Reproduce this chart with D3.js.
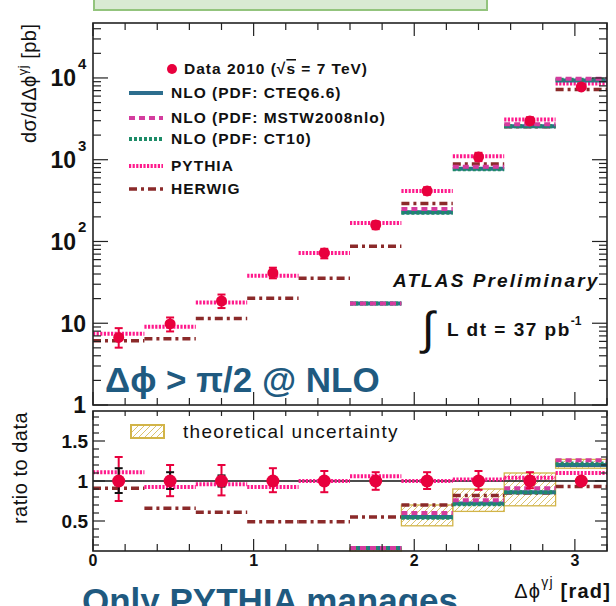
<!DOCTYPE html>
<html><head><meta charset="utf-8">
<script src="https://cdn.jsdelivr.net/npm/d3@7"></script>
<style>body{margin:0;background:#fff}svg{display:block}text{font-family:"Liberation Sans",Arial,sans-serif}</style>
</head><body><svg id="c" width="616" height="606"></svg>
<script>
// ---- data ----
const binEdges = [0,0.32,0.64,0.96,1.28,1.60,1.92,2.24,2.56,2.88,3.20];
const dataVals = [6.7, 9.8, 18.7, 41.2, 72.3, 159, 415, 1080, 2980, 7770];
const errTotUp = [0.30,0.20,0.20,0.16,0.125,0.11,0.11,0.125,0.11,0.05];
const errTotDn = [0.25,0.19,0.18,0.14,0.14,0.11,0.10,0.11,0.09,0.05];
const errStatUp = [0.16,0.11,0.07,0.03,0.02,0.02,0.02,0.02,0.02,0.02];
const errStatDn = [0.15,0.10,0.07,0.03,0.02,0.02,0.02,0.02,0.02,0.02];
const pythiaRatio = [1.11,0.925,0.96,0.925,1.0,1.06,1.0,1.02,1.04,1.10];
const herwigRatio = [0.91,0.66,0.61,0.49,0.49,0.55,0.70,0.82,0.85,0.93];
const cteqRatio = [null,null,null,null,null,0.11,0.55,0.72,0.86,1.20];
const mstwRatio = [null,null,null,null,null,0.11,0.60,0.76,0.91,1.26];
const ct10Ratio = [null,null,null,null,null,0.11,0.54,0.71,0.86,1.22];
const uncLo = [null,null,null,null,null,0.0,0.44,0.62,0.69,1.16];
const uncHi = [null,null,null,null,null,0.16,0.70,0.90,1.10,1.27];
const topTickVals = [1,10,100,1000,10000];
const topTickBase = ["1","10","10","10","10"];
const topTickExp = [null,null,"2","3","4"];
const ratioTickVals = [0.5,1,1.5];
const ratioTickLabels = ["0.5","1","1.5"];
const xTickVals = [0,1,2,3];
const xTickLabels = ["0","1","2","3"];
const legendNames = ["NLO (PDF: CTEQ6.6)","NLO (PDF: MSTW2008nlo)","NLO (PDF: CT10)","PYTHIA","HERWIG"];

// ---- styles ----
const C = {data:"#e8003d", cteq:"#2d6e8e", mstw:"#d43c9e", ct10:"#1e8c68", pythia:"#ff1a8c", herwig:"#8b2a2a", gold:"#d2b448", blue:"#1f5a80"};
const models = [
  {key:"herwig", r:herwigRatio, color:C.herwig, dash:"8,4,3,4", w:3.5},
  {key:"pythia", r:pythiaRatio, color:C.pythia, dash:"2.2,1.4", w:4},
  {key:"cteq", r:cteqRatio, color:C.cteq, dash:null, w:4},
  {key:"ct10", r:ct10Ratio, color:C.ct10, dash:"3,2", w:4},
  {key:"mstw", r:mstwRatio, color:C.mstw, dash:"6,4", w:4}
];
const legendStyles = [models[2],models[4],models[3],models[1],models[0]];

const svg = d3.select("#c");
const x = d3.scaleLinear([0,3.2],[93,607]);
const yT = d3.scaleLog([1,4.7e4],[405,23]);
const yR = d3.scaleLinear([0.125,1.875],[551,411]).clamp(true);
const bins = dataVals.map((v,i)=>({i, lo:binEdges[i], hi:binEdges[i+1], c:(binEdges[i]+binEdges[i+1])/2, v}));

// green box at top
svg.append("rect").attr("x",94).attr("y",-5).attr("width",393).attr("height",15)
  .attr("fill","#d9ead3").attr("stroke","#93c47d").attr("stroke-width",2);

// hatch pattern
const defs = svg.append("defs");
const pat = defs.append("pattern").attr("id","hatch").attr("patternUnits","userSpaceOnUse").attr("width",6).attr("height",6);
pat.append("path").attr("d","M-1,1 L1,-1 M0,6 L6,0 M5,7 L7,5").attr("stroke",C.gold).attr("stroke-width",0.8);
defs.append("clipPath").attr("id","clipT").append("rect").attr("x",93).attr("y",23).attr("width",514).attr("height",382);
defs.append("clipPath").attr("id","clipR").append("rect").attr("x",93).attr("y",411).attr("width",514).attr("height",142);

// ---------- TOP PANEL ----------
const gT = svg.append("g").attr("clip-path","url(#clipT)");
models.forEach(m=>{
  gT.selectAll(null).data(bins.filter(b=>m.r[b.i]!=null)).join("line")
    .attr("x1",b=>x(b.lo)).attr("x2",b=>x(b.hi))
    .attr("y1",b=>yT(m.r[b.i]*b.v)).attr("y2",b=>yT(m.r[b.i]*b.v))
    .attr("stroke",m.color).attr("stroke-width",m.w).attr("stroke-dasharray",m.dash);
});
gT.selectAll(null).data(bins).join("line")
  .attr("x1",b=>x(b.c)).attr("x2",b=>x(b.c))
  .attr("y1",b=>yT(b.v*(1+errTotUp[b.i]))).attr("y2",b=>yT(b.v*(1-errTotDn[b.i])))
  .attr("stroke",C.data).attr("stroke-width",2);
[errTotUp,errTotDn].forEach((e,k)=>{
  gT.selectAll(null).data(bins).join("line")
    .attr("x1",b=>x(b.c)-4).attr("x2",b=>x(b.c)+4)
    .attr("y1",b=>yT(b.v*(k?1-e[b.i]:1+e[b.i]))).attr("y2",b=>yT(b.v*(k?1-e[b.i]:1+e[b.i])))
    .attr("stroke",C.data).attr("stroke-width",2);
});
gT.selectAll(null).data(bins).join("circle")
  .attr("cx",b=>x(b.c)).attr("cy",b=>yT(b.v)).attr("r",5.5).attr("fill",C.data);

function frame(y0,y1){
  svg.append("rect").attr("x",93).attr("y",y0).attr("width",514).attr("height",y1-y0)
    .attr("fill","none").attr("stroke","#222").attr("stroke-width",1.6);
}
frame(23,405);
const tk = svg.append("g").attr("stroke","#222").attr("stroke-width",1.2);
d3.range(0,3.2001,0.2).forEach(v=>{
  const maj = Math.abs(v-Math.round(v))<1e-6, L = maj?13:7;
  tk.append("line").attr("x1",x(v)).attr("x2",x(v)).attr("y1",23).attr("y2",23+L);
  tk.append("line").attr("x1",x(v)).attr("x2",x(v)).attr("y1",405).attr("y2",405-L);
  tk.append("line").attr("x1",x(v)).attr("x2",x(v)).attr("y1",411).attr("y2",411+(maj?9:5));
  tk.append("line").attr("x1",x(v)).attr("x2",x(v)).attr("y1",551).attr("y2",551-(maj?12:7));
});
for(let d=1; d<=10000; d*=10){
  for(let k=1;k<=9;k++){
    const v=d*k; if(v>4.7e4) break;
    const L = k===1?15:8;
    tk.append("line").attr("x1",93).attr("x2",93+L).attr("y1",yT(v)).attr("y2",yT(v));
    tk.append("line").attr("x1",607).attr("x2",607-L).attr("y1",yT(v)).attr("y2",yT(v));
  }
}
const tl = svg.append("g").attr("font-weight","bold").attr("fill","#111");
topTickVals.forEach((v,i)=>{
  tl.append("text").attr("x",topTickExp[i]?76:86).attr("y",yT(v)).attr("dy","0.36em")
    .attr("text-anchor","end").attr("font-size",23).text(topTickBase[i]);
  if(topTickExp[i]) tl.append("text").attr("x",78).attr("y",yT(v)-9).attr("font-size",15).text(topTickExp[i]);
});

const yt = svg.append("text").attr("transform","translate(36,143) rotate(-90)")
  .attr("font-size",20).attr("letter-spacing",0.5).attr("fill","#111");
yt.append("tspan").text("dσ/dΔϕ");
yt.append("tspan").attr("font-size",13).attr("dy",-9).text("γj");
yt.append("tspan").attr("dy",9).text(" [pb]");

// legend
svg.append("circle").attr("cx",172).attr("cy",69).attr("r",5).attr("fill",C.data);
const lg = svg.append("g").attr("font-weight","bold").attr("font-size",15.5).attr("letter-spacing",1).attr("fill","#111");
const dt = lg.append("text").attr("x",184).attr("y",74);
dt.append("tspan").text("Data 2010 (");
dt.append("tspan").text("√");
dt.append("tspan").attr("text-decoration","overline").text("s");
dt.append("tspan").text(" = 7 TeV)");
const legY = [93,118,139,166,189];
legendStyles.forEach((m,i)=>{
  svg.append("line").attr("x1",129).attr("x2",163).attr("y1",legY[i]).attr("y2",legY[i])
    .attr("stroke",m.color).attr("stroke-width",m.w).attr("stroke-dasharray",m.dash);
  lg.append("text").attr("x",171).attr("y",legY[i]+5).text(legendNames[i]);
});

// annotations
svg.append("text").attr("x",393).attr("y",287).attr("font-size",19).attr("font-weight","bold")
  .attr("font-style","italic").attr("letter-spacing",2.1).attr("fill","#111").text("ATLAS Preliminary");
svg.append("text").attr("x",422).attr("y",344).attr("font-size",46).attr("font-family","DejaVu Sans")
  .attr("fill","#111").text("∫");
const lum = svg.append("text").attr("x",447).attr("y",336).attr("font-size",19).attr("font-weight","bold")
  .attr("letter-spacing",1.5).attr("fill","#111");
lum.append("tspan").text("L dt = 37 pb");
lum.append("tspan").attr("font-size",12).attr("dy",-11).attr("letter-spacing",0).text("-1");
svg.append("text").attr("x",105).attr("y",392).attr("font-size",35).attr("font-weight","bold")
  .attr("fill",C.blue).text("Δϕ > π/2 @ NLO");

// ---------- RATIO PANEL ----------
const gR = svg.append("g").attr("clip-path","url(#clipR)");
const ub = bins.filter(b=>uncLo[b.i]!=null);
gR.selectAll(null).data(ub).join("rect")
  .attr("x",b=>x(b.lo)).attr("width",b=>x(b.hi)-x(b.lo))
  .attr("y",b=>yR(uncHi[b.i])).attr("height",b=>yR(uncLo[b.i])-yR(uncHi[b.i]))
  .attr("fill","url(#hatch)").attr("stroke",C.gold).attr("stroke-width",1.3);
gR.append("line").attr("x1",93).attr("x2",607).attr("y1",yR(1)).attr("y2",yR(1)).attr("stroke","#111").attr("stroke-width",1.5);
models.forEach(m=>{
  gR.selectAll(null).data(bins.filter(b=>m.r[b.i]!=null)).join("line")
    .attr("x1",b=>x(b.lo)).attr("x2",b=>x(b.hi))
    .attr("y1",b=>yR(m.r[b.i])-(m.r[b.i]<0.125?3:0)).attr("y2",b=>yR(m.r[b.i])-(m.r[b.i]<0.125?3:0))
    .attr("stroke",m.color).attr("stroke-width",m.w).attr("stroke-dasharray",m.dash);
});
function errBars(up,dn,color,w){
  gR.selectAll(null).data(bins).join("line")
    .attr("x1",b=>x(b.c)).attr("x2",b=>x(b.c))
    .attr("y1",b=>yR(1+up[b.i])).attr("y2",b=>yR(1-dn[b.i])).attr("stroke",color).attr("stroke-width",w);
  [up,dn].forEach((e,k)=>{
    gR.selectAll(null).data(bins).join("line")
      .attr("x1",b=>x(b.c)-4).attr("x2",b=>x(b.c)+4)
      .attr("y1",b=>yR(k?1-e[b.i]:1+e[b.i])).attr("y2",b=>yR(k?1-e[b.i]:1+e[b.i]))
      .attr("stroke",color).attr("stroke-width",w);
  });
}
errBars(errTotUp,errTotDn,C.data,2);
errBars(errStatUp,errStatDn,"#111",2);
gR.selectAll(null).data(bins).join("circle")
  .attr("cx",b=>x(b.c)).attr("cy",yR(1)).attr("r",6.5).attr("fill",C.data);

frame(411,551);
d3.range(0.2,1.8001,0.1).forEach(v=>{
  const maj = Math.abs(v*2-Math.round(v*2))<1e-6, L = maj?12:6;
  tk.append("line").attr("x1",93).attr("x2",93+L).attr("y1",yR(v)).attr("y2",yR(v));
  tk.append("line").attr("x1",607).attr("x2",607-L).attr("y1",yR(v)).attr("y2",yR(v));
});
tk.raise();
ratioTickVals.forEach((v,i)=>{
  tl.append("text").attr("x",88).attr("y",yR(v)).attr("dy","0.36em").attr("text-anchor","end")
    .attr("font-size",19).text(ratioTickLabels[i]);
});
xTickVals.forEach((v,i)=>{
  tl.append("text").attr("x",x(v)).attr("y",566).attr("text-anchor","middle")
    .attr("font-size",16).text(xTickLabels[i]);
});
tl.raise();

svg.append("rect").attr("x",131).attr("y",425).attr("width",33).attr("height",13)
  .attr("fill","url(#hatch)").attr("stroke",C.gold).attr("stroke-width",2);
svg.append("text").attr("x",183).attr("y",438).attr("font-size",19).attr("letter-spacing",1.3)
  .attr("fill","#111").text("theoretical uncertainty");

svg.append("text").attr("transform","translate(27,468) rotate(-90)").attr("text-anchor","middle")
  .attr("font-size",20).attr("letter-spacing",0.5).attr("fill","#111").text("ratio to data");

const xt = svg.append("text").attr("x",611).attr("y",598).attr("text-anchor","end").attr("font-size",20).attr("letter-spacing",1.2).attr("fill","#111");
xt.append("tspan").text("Δϕ");
xt.append("tspan").attr("font-size",14).attr("dy",-11).text("γj");
xt.append("tspan").attr("dy",11).attr("font-weight","bold").text(" [rad]");

svg.append("text").attr("x",82).attr("y",613).attr("font-size",35).attr("font-weight","bold")
  .attr("fill",C.blue).text("Only PYTHIA manages");
</script></body></html>
